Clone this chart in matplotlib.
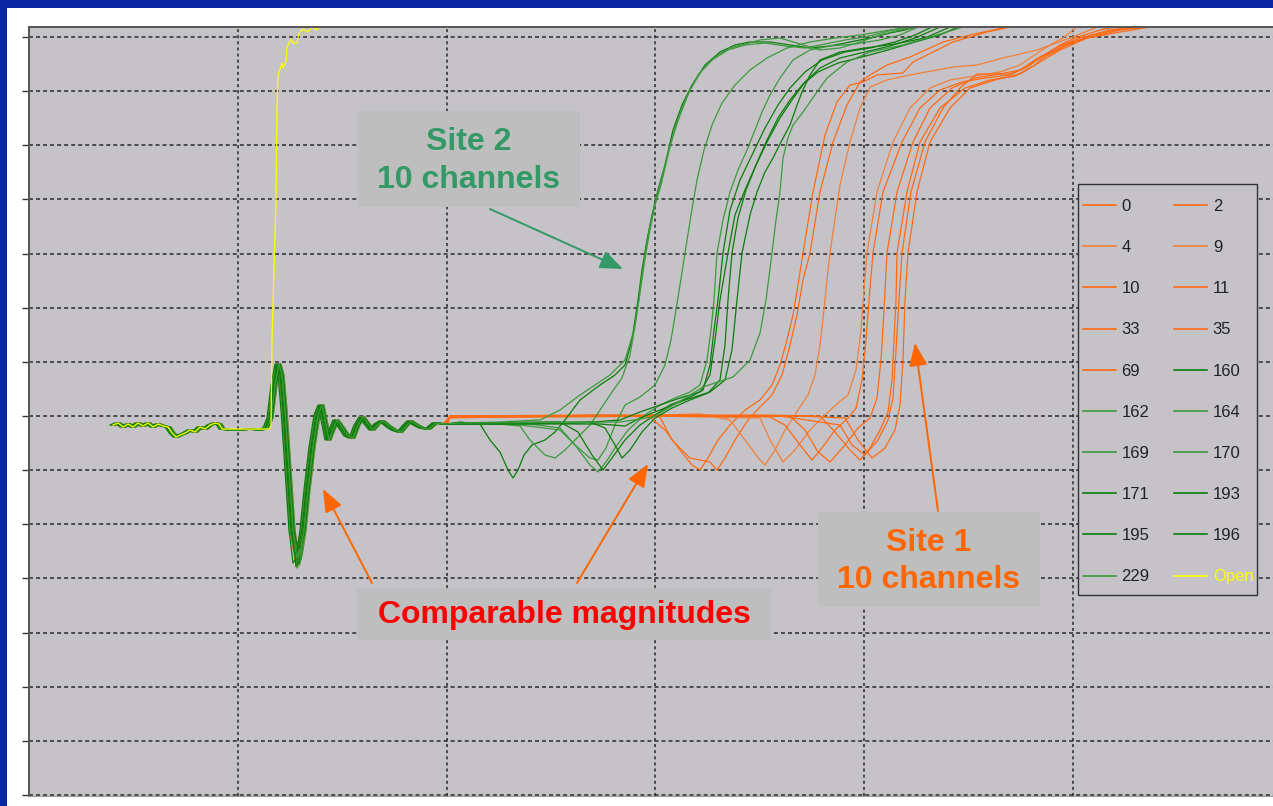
import matplotlib

matplotlib.use('Agg')
import matplotlib.pyplot as plt
import numpy as np
from matplotlib.lines import Line2D
from matplotlib.patches import FancyArrowPatch, Rectangle

plt.rcParams['font.family'] = ['Liberation Sans', 'DejaVu Sans']

SLIDE_BLUE = '#0A27A3'
PLOT_GREY = '#C5C3C7'
BOX_GREY = '#BDBEBD'
ORANGE = '#FF6A13'
ORANGE_LIGHT = '#F2803A'
GREEN = '#0B7D0B'
GREEN_LIGHT = '#3C9A3C'

# time in samples, amplitude in counts
X_DIV = 208.8
Y_DIV = 54.16

# ringing right after the breaker opens, shared by every channel
transient_t = [84, 89, 94, 99, 104, 109, 114, 119, 124, 129, 134, 139, 143, 147, 151, 156, 161, 166,
               171, 176, 181, 186, 190, 193, 201, 211, 221, 231, 237, 241, 245, 249, 252, 255, 259, 263,
               267, 270, 274, 278, 283, 288, 292, 296, 299, 302, 307, 312, 318, 323, 328, 333, 338, 343,
               348, 353, 359, 365, 371, 376, 381, 387, 393, 399, 406, 416]
transient_a = [-7, -5, -9, -6, -9, -5, -8, -5, -9, -6, -8, -9, -15, -19, -17, -15, -12, -14,
               -9, -11, -7, -5, -6, -11, -12, -12, -11, -12, -10, 0, 33, 54, 43, 8, -52, -112,
               -144, -140, -112, -72, -29, 3, 13, -7, -22, -14, -2, -9, -18, -20, -7, 1, -6, -12,
               -6, -3, -8, -12, -14, -8, -3, -7, -10, -11, -5, -6]
TROUGH = 36  # index of the deepest sample in the ringing
transient_shift = [0, 2, -1, 1, 3, -2, 0, 1, -1, 2, 0, -2, 1, 3, -1, 0, 2, -3, 1]
trough_depth = [-144, -138, -130, -147, -141, -135, -149, -128, -143,
                -146, -139, -133, -150, -142, -136, -148, -131, -145, -140]

open_t = [84, 89, 94, 99, 104, 109, 114, 119, 124, 129, 134, 139, 143, 147, 151, 156, 161, 166,
          171, 176, 181, 186, 190, 193, 240, 242, 243, 245, 247, 248, 249, 253, 254, 257, 258, 262,
          264, 268, 270, 274, 279, 283, 288, 293]
open_a = [-7, -5, -9, -6, -9, -5, -8, -5, -9, -6, -8, -9, -15, -19, -17, -15, -12, -14,
          -9, -11, -7, -5, -6, -11, -11, -8, 78, 148, 218, 310, 342, 355, 350, 356, 371, 379,
          375, 375, 385, 389, 386, 391, 388, 394]

# site 1 channels
ch0_t = [421, 521, 591, 621, 636, 651, 663, 671, 679, 689, 701, 716, 731, 743, 751, 758, 764, 769, 774,
         784, 796, 808, 821, 834, 848, 874, 884, 908, 924, 958, 981]
ch0_a = [0, 2, 3, 1, -12, -32, -47, -52, -40, -22, -7, 8, 18, 33, 53, 78, 103, 133, 165,
         226, 283, 316, 333, 336, 343, 345, 356, 368, 376, 386, 391]
ch2_t = [421, 571, 631, 643, 661, 681, 688, 696, 706, 719, 731, 743, 753, 761, 768, 774, 781, 791, 804,
         818, 831, 841, 858, 881, 901, 914, 941, 974, 981]
ch2_a = [2, 3, 1, -22, -40, -44, -52, -40, -22, -2, 11, 23, 43, 73, 103, 138, 165, 226, 276,
         313, 336, 343, 353, 361, 370, 376, 383, 390, 392]
ch4_t = [421, 591, 671, 701, 716, 731, 736, 746, 756, 769, 779, 786, 791, 795, 799, 801, 811, 821, 831,
         841, 858, 881, 908, 924, 948, 974, 1008, 1041, 1061, 1071]
ch4_a = [1, 2, 4, -2, -22, -42, -47, -32, -12, 8, 23, 43, 73, 108, 148, 165, 233, 276, 310,
         331, 338, 343, 348, 351, 353, 360, 368, 380, 388, 392]
ch9_t = [421, 621, 731, 741, 754, 766, 781, 796, 809, 819, 827, 832, 835, 838, 848, 864, 881, 901, 921,
         946, 971, 991, 1001, 1021, 1034, 1048]
ch9_a = [1, 2, 0, -22, -44, -32, -12, 3, 15, 23, 48, 88, 128, 165, 226, 276, 310, 330, 338,
         342, 346, 353, 360, 373, 380, 391]
ch10_t = [421, 671, 741, 756, 771, 783, 793, 806, 819, 827, 833, 837, 840, 844, 854, 873, 891, 911, 933,
          956, 981, 1001, 1011, 1031, 1046, 1071, 1086]
ch10_a = [2, 3, 1, -7, -27, -42, -30, -12, 0, 10, 38, 78, 118, 165, 226, 276, 310, 328, 336,
          340, 343, 353, 360, 373, 380, 388, 391]
ch11_t = [421, 721, 761, 776, 789, 801, 816, 829, 841, 848, 852, 855, 858, 868, 884, 901, 923, 946, 971,
          991, 1009, 1031, 1051, 1081, 1101]
ch11_a = [1, 2, 2, -12, -34, -44, -27, -10, 0, 20, 58, 108, 165, 226, 276, 310, 330, 340, 344,
          348, 360, 372, 380, 388, 391]
ch33_t = [421, 731, 791, 806, 821, 831, 841, 851, 859, 863, 865, 867, 868, 878, 891, 911, 936, 961, 986,
          1006, 1014, 1036, 1058, 1091, 1116]
ch33_a = [2, 3, 2, -14, -32, -42, -30, -12, 6, 38, 78, 118, 165, 226, 276, 310, 330, 338, 342,
          353, 360, 372, 380, 388, 391]
ch35_t = [421, 771, 816, 829, 843, 856, 866, 871, 874, 876, 879, 888, 901, 921, 941, 966, 991, 1011, 1031,
          1058, 1091, 1121]
ch35_a = [1, 2, 0, -22, -40, -30, -12, 13, 58, 118, 165, 226, 276, 310, 330, 338, 344, 356, 368,
          380, 386, 391]
ch69_t = [421, 751, 811, 823, 836, 849, 859, 864, 867, 870, 873, 882, 896, 914, 931, 948, 981, 996, 1011,
          1036, 1061, 1086, 1111]
ch69_a = [2, 2, -7, -27, -37, -22, -2, 20, 68, 118, 165, 226, 276, 310, 330, 344, 344, 350, 360,
          373, 382, 388, 391]

# site 2 channels
ch160_t = [431, 451, 461, 471, 479, 484, 489, 495, 503, 516, 526, 536, 551, 571, 586, 596, 603, 609, 613,
           618, 623, 629, 636, 644, 653, 663, 676, 691, 706, 721, 741, 761, 781, 801, 821, 841, 861, 876, 886]
ch160_a = [-4, -6, -22, -34, -52, -60, -52, -37, -27, -22, -14, -2, 18, 33, 43, 53, 78, 118, 148,
           178, 203, 228, 253, 288, 313, 333, 353, 366, 373, 376, 376, 373, 370, 372, 376, 380, 385, 388, 391]
ch162_t = [431, 461, 491, 501, 516, 526, 536, 546, 561, 571, 583, 593, 601, 607, 611, 616, 621, 627, 633,
           641, 651, 661, 673, 686, 701, 716, 731, 751, 771, 791, 811, 831, 851, 871, 886]
ch162_a = [-6, -5, -8, -22, -37, -40, -32, -22, -7, 8, 26, 40, 63, 98, 128, 163, 193, 218, 240,
           273, 303, 328, 348, 361, 370, 374, 378, 380, 374, 368, 370, 376, 383, 388, 391]
ch164_t = [431, 471, 511, 531, 551, 566, 581, 596, 605, 610, 615, 620, 626, 632, 639, 647, 657, 669, 683,
           699, 716, 736, 756, 776, 796, 816, 836, 856, 876]
ch164_a = [-5, -4, -2, 8, 23, 33, 43, 58, 88, 118, 153, 183, 213, 233, 263, 293, 320, 343, 358,
           368, 373, 375, 372, 370, 374, 378, 381, 386, 391]
ch169_t = [431, 491, 531, 546, 561, 569, 577, 586, 596, 611, 626, 636, 642, 647, 651, 656, 662, 668, 675,
           683, 693, 706, 721, 738, 758, 781, 806, 831, 861, 891]
ch169_a = [-5, -7, -12, -27, -40, -42, -30, -7, 13, 21, 33, 53, 78, 108, 133, 165, 203, 238, 268,
           293, 315, 333, 348, 360, 370, 376, 380, 383, 388, 391]
ch170_t = [431, 501, 531, 546, 561, 569, 577, 586, 599, 616, 631, 646, 661, 671, 678, 682, 685, 688, 694,
           701, 709, 718, 726, 733, 741, 751, 764, 781, 801, 826, 851, 871, 889]
ch170_a = [-6, -6, -10, -27, -47, -54, -44, -30, -12, 3, 13, 20, 26, 33, 58, 88, 118, 165, 198,
           226, 248, 268, 288, 306, 323, 340, 358, 368, 372, 374, 378, 383, 391]
ch171_t = [431, 531, 549, 563, 574, 583, 596, 611, 626, 641, 659, 674, 681, 685, 689, 694, 701, 711, 723,
           736, 749, 761, 776, 793, 816, 841, 866, 886, 903]
ch171_a = [-5, -4, -14, -37, -52, -40, -22, -7, 3, 13, 20, 28, 53, 88, 118, 165, 208, 238, 263,
           290, 313, 330, 346, 358, 366, 370, 376, 383, 391]
ch193_t = [431, 551, 591, 611, 631, 651, 671, 681, 686, 691, 699, 706, 716, 727, 739, 751, 763, 776, 791,
           811, 836, 861, 886, 911]
ch193_a = [-6, -5, -2, 6, 13, 20, 26, 43, 78, 118, 165, 203, 228, 253, 278, 300, 318, 336, 350,
           360, 366, 372, 380, 391]
ch195_t = [431, 561, 576, 586, 593, 601, 613, 626, 643, 661, 679, 691, 696, 699, 703, 709, 717, 727, 738,
           749, 761, 774, 789, 809, 833, 859, 886, 911, 929]
ch195_a = [-5, -4, -10, -27, -40, -32, -14, 0, 10, 18, 25, 38, 73, 118, 165, 200, 228, 253, 278,
           300, 318, 334, 346, 355, 361, 368, 376, 383, 391]
ch196_t = [431, 571, 596, 611, 631, 656, 681, 696, 703, 708, 713, 721, 728, 736, 744, 753, 761, 767, 773,
           781, 791, 811, 836, 866, 896, 921]
ch196_a = [-6, -6, -8, 0, 8, 18, 26, 38, 68, 118, 165, 203, 226, 246, 260, 278, 293, 310, 326,
           343, 358, 366, 370, 374, 380, 391]
ch229_t = [431, 591, 624, 641, 658, 674, 704, 721, 731, 737, 743, 747, 751, 754, 759, 764, 774, 788, 798,
           818, 841, 874, 908, 934]
ch229_a = [-5, -4, 1, 11, 21, 31, 41, 58, 85, 118, 165, 198, 226, 260, 280, 293, 306, 326, 340,
           356, 366, 373, 383, 391]

channel_labels = ['0', '2', '4', '9', '10', '11', '33', '35', '69',
                  '160', '162', '164', '169', '170', '171', '193', '195', '196', '229']
channel_colors = [ORANGE, ORANGE, ORANGE_LIGHT, ORANGE_LIGHT, ORANGE, ORANGE, ORANGE, ORANGE, ORANGE,
                  GREEN, GREEN_LIGHT, GREEN_LIGHT, GREEN_LIGHT, GREEN_LIGHT, GREEN, GREEN, GREEN, GREEN,
                  GREEN_LIGHT]
tails = [(ch0_t, ch0_a), (ch2_t, ch2_a), (ch4_t, ch4_a), (ch9_t, ch9_a), (ch10_t, ch10_a),
         (ch11_t, ch11_a), (ch33_t, ch33_a), (ch35_t, ch35_a), (ch69_t, ch69_a),
         (ch160_t, ch160_a), (ch162_t, ch162_a), (ch164_t, ch164_a), (ch169_t, ch169_a),
         (ch170_t, ch170_a), (ch171_t, ch171_a), (ch193_t, ch193_a), (ch195_t, ch195_a),
         (ch196_t, ch196_a), (ch229_t, ch229_a)]

fig = plt.figure(figsize=(12.73, 8.06), dpi=100, facecolor=SLIDE_BLUE)
fig.patches.append(Rectangle((7 / 1273, 0), 1, 1 - 8 / 806, transform=fig.transFigure,
                             facecolor='white', edgecolor='none', zorder=-10))
ax = fig.add_axes([29 / 1273, 10.5 / 806, 1244 / 1273, 768.5 / 806])
ax.set_facecolor(PLOT_GREY)
ax.set_xlim(0, 1244)
ax.set_ylim(-377.5, 391)

ax.set_xticks(X_DIV * np.arange(1, 6))
ax.set_yticks(2 + Y_DIV * np.arange(-7, 8))
ax.tick_params(axis='x', length=0, labelbottom=False)
ax.tick_params(axis='y', length=5, width=1, color='#333333', direction='out', labelleft=False)
ax.grid(axis='x', color='#2A2A2A', linestyle=(0, (2, 2)), linewidth=1.1)
ax.grid(axis='y', color='#2A2A2A', linestyle=(0, (2.6, 2)), linewidth=1.1)
ax.set_axisbelow(True)
for side in ('left', 'top'):
    ax.spines[side].set_color('#555555')
    ax.spines[side].set_linewidth(1.4)
ax.spines['bottom'].set_color('#9A9A9A')
ax.spines['right'].set_visible(False)

for (tail_t, tail_a), shift, depth, color in zip(tails, transient_shift, trough_depth, channel_colors):
    ring_a = list(transient_a)
    ring_a[TROUGH] = depth
    ring_a[TROUGH + 1] = depth + 4
    t = np.concatenate([np.array(transient_t) + shift, tail_t])
    a = np.concatenate([ring_a, tail_a])
    ax.plot(t, a, color=color, linewidth=0.9, zorder=2)
ax.plot(open_t, open_a, color='#FFFF00', linewidth=0.9, zorder=2)

# callout boxes
ax.add_patch(Rectangle((329, 211), 222, 96, facecolor=BOX_GREY, edgecolor='none', zorder=3))
ax.add_patch(Rectangle((789, -189), 222, 95, facecolor=BOX_GREY, edgecolor='none', zorder=3))
ax.add_patch(Rectangle((328, -222), 414, 52, facecolor=BOX_GREY, edgecolor='none', zorder=3))

text_kw = dict(ha='center', va='center', fontsize=23, fontweight='bold', zorder=4)
ax.text(440, 276, 'Site 2', color='#339966', **text_kw)
ax.text(440, 238, '10 channels', color='#339966', **text_kw)
ax.text(900, -125, 'Site 1', color='#FF6600', **text_kw)
ax.text(900, -162, '10 channels', color='#FF6600', **text_kw)
ax.text(535, -197, 'Comparable magnitudes', color='#FF0000', **text_kw)

arrow_style = '-|>,head_length=0.7,head_width=0.28'
for tail, tip, color in [((461, 209), (594, 149), '#339966'),
                         ((909, -93), (886, 75), '#FF6600'),
                         ((343, -165), (294, -71), '#FF6600'),
                         ((548, -165), (619, -46), '#FF6600')]:
    ax.add_patch(FancyArrowPatch(tail, tip, arrowstyle=arrow_style, mutation_scale=20, color=color,
                                 linewidth=1.4, shrinkA=0, shrinkB=0, zorder=4))

# legend: separate frame so the padding can differ top/left, entries read row by row
ax.add_patch(Rectangle((1049, -177), 179, 411, facecolor=PLOT_GREY, edgecolor='#333333',
                       linewidth=1.0, zorder=5))
handles = [Line2D([], [], color=c, linewidth=1.2) for c in channel_colors]
handles.append(Line2D([], [], color='#FFFF00', linewidth=1.2))
labels = channel_labels + ['Open']
order = list(range(0, 20, 2)) + list(range(1, 20, 2))
leg = ax.legend([handles[i] for i in order], [labels[i] for i in order], ncol=2,
                loc='upper left', bbox_to_anchor=((1083 - 29) / 1244, (795.5 - 199) / 768.5),
                borderaxespad=0, borderpad=0, fontsize=12, handlelength=1.95,
                handletextpad=0.35, columnspacing=1.5, labelspacing=1.57, frameon=False)
leg.set_zorder(6)
for txt, lab in zip(leg.get_texts(), [labels[i] for i in order]):
    txt.set_color('#FFFF00' if lab == 'Open' else '#222222')

fig.savefig('out.png', dpi=100, facecolor=SLIDE_BLUE)
